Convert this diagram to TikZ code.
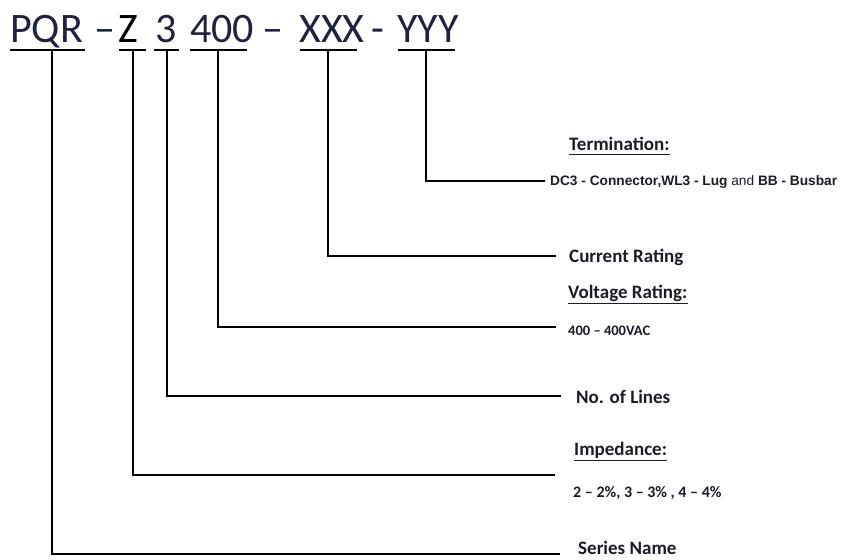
\documentclass[tikz,border=0pt]{standalone}
\usepackage{fontspec}
\setmainfont{Carlito}
\newfontfamily\arialf{Liberation Sans}
\definecolor{titlec}{RGB}{30,36,64}
\definecolor{labc}{RGB}{28,28,40}
\begin{document}
\begin{tikzpicture}[x=1pt,y=-1pt,
  conn/.style={line width=2.4pt, line join=miter, draw=black},
  bar/.style={line width=2.2pt, draw=black},
  ttl/.style={anchor=base west, inner sep=0pt, font=\fontsize{42}{50}\selectfont, text=titlec},
  lab/.style={anchor=base west, inner sep=0pt, font=\bfseries\fontsize{19}{22}\selectfont, text=labc},
  sublab/.style={anchor=base west, inner sep=0pt, font=\bfseries\fontsize{14.5}{17}\selectfont, text=labc},
  ulline/.style={line width=1.3pt, draw=labc}]
\useasboundingbox (0,0) rectangle (842,559);
% title pieces
\node[ttl] (tPQR) at (10,43) {PQR};
\node[ttl] (td1) at (94,43) {–};
\node[ttl, text=black] (tZ) at (118,43) {Z};
\node[ttl] (t3) at (155,43) {3};
\node[ttl] (t400) at (190,43) {400};
\node[ttl] (td2) at (262,43) {–};
\node[ttl] (tX) at (299,43) {XXX};
\node[ttl] (td3) at (371,43) {-};
\node[ttl] (tY) at (397,43) {YYY};
% bars under the title parts
\coordinate (bPQRl) at (10,50);  \coordinate (bPQRr) at (85,50);
\coordinate (bZl) at (119,50);   \coordinate (bZr) at (146,50);
\coordinate (b3l) at (154,50);   \coordinate (b3r) at (179,50);
\coordinate (b400l) at (190,50); \coordinate (b400r) at (247,50);
\coordinate (bXl) at (300,50);   \coordinate (bXr) at (357,50);
\coordinate (bYl) at (398,50);   \coordinate (bYr) at (455,50);
\draw[bar] (bPQRl) -- (bPQRr);
\draw[bar] (bZl) -- (bZr);
\draw[bar] (b3l) -- (b3r);
\draw[bar] (b400l) -- (b400r);
\draw[bar] (bXl) -- (bXr);
\draw[bar] (bYl) -- (bYr);
% stem tops
\coordinate (sPQR) at (52,50);
\coordinate (sZ) at (133,50);
\coordinate (s3) at (167,50);
\coordinate (s400) at (218,50);
\coordinate (sX) at (328,50);
\coordinate (sY) at (426,50);
% connector ends
\coordinate (eY) at (545,181);
\coordinate (eX) at (556,256);
\coordinate (e400) at (556,327);
\coordinate (e3) at (561,396);
\coordinate (eZ) at (555,475);
\coordinate (ePQR) at (560,554);
\draw[conn] (sY) |- (eY);
\draw[conn] (sX) |- (eX);
\draw[conn] (s400) |- (e400);
\draw[conn] (s3) |- (e3);
\draw[conn] (sZ) |- (eZ);
\draw[conn] (sPQR) |- (ePQR);
% labels
\node[lab] (term) at (569,150) {Termination:};
\draw[ulline] ([yshift=-4pt]term.south west) -- ([yshift=-4pt]term.south east);
\node[anchor=base west, inner sep=0pt, text=labc, font=\arialf\fontsize{13.7}{16}\selectfont] (termv) at (550,185)
  {\textbf{DC3 - Connector,WL3 - Lug} and \textbf{BB - Busbar}};
\node[lab] (cur) at (569,262) {Current Rating};
\node[lab] (volt) at (568,298) {Voltage Rating:};
\draw[ulline] ([yshift=-2pt]volt.south west) -- ([yshift=-2pt]volt.south east);
\node[sublab] (voltv) at (568,335) {400 – 400VAC};
\node[lab] (lines) at (576,403) {No. of Lines};
\node[lab] (imp) at (574,455) {Impedance:};
\draw[ulline] ([yshift=-2pt]imp.south west) -- ([yshift=-2pt]imp.south east);
\node[sublab, font=\bfseries\fontsize{16}{19}\selectfont] (impv) at (573,497) {2 – 2\%, 3 – 3\% , 4 – 4\%};
\node[lab] (ser) at (578,554) {Series Name};
\end{tikzpicture}
\end{document}
